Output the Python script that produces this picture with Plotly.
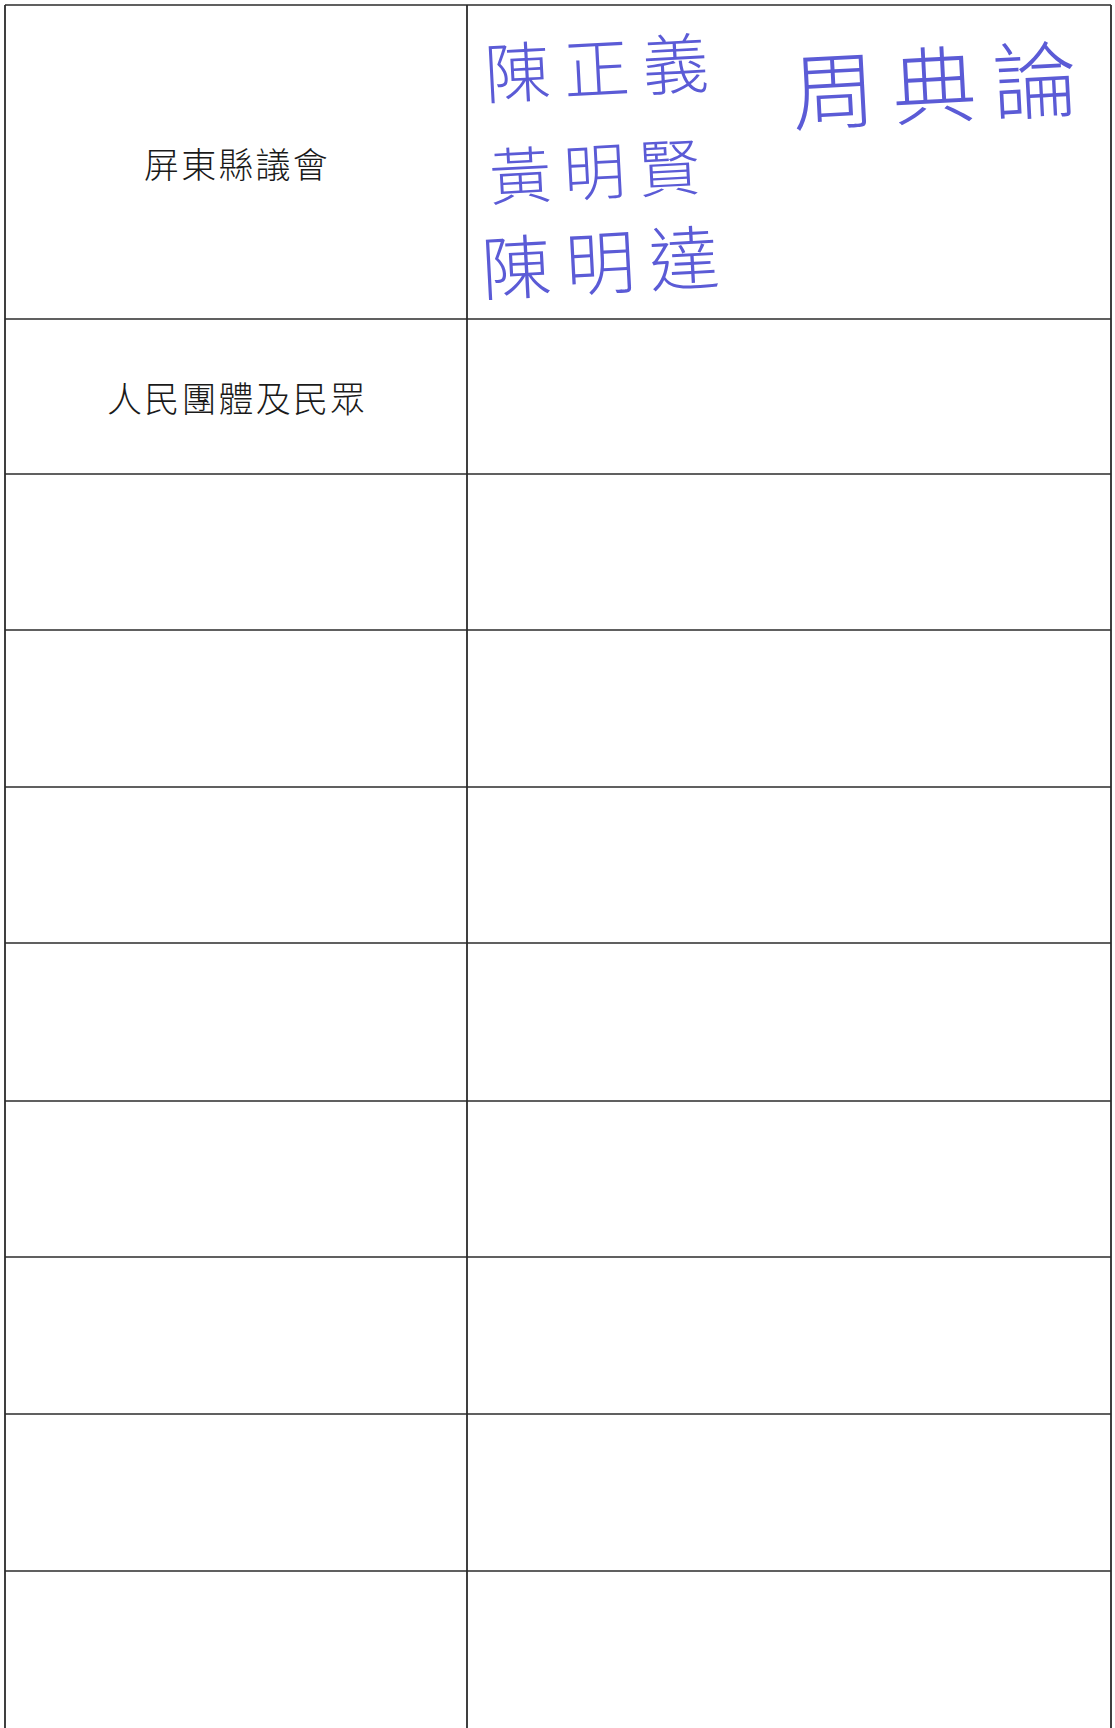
import plotly.graph_objects as go

# ---- table structure (page pixel coordinates of the scanned form) ----
page_width = 1115
page_height = 1728
col_edges = [5, 467, 1111]
row_edges = [5, 319, 474, 630, 787, 943, 1101, 1257, 1414, 1571, 1728]

# ---- text content ----
row_labels = ["屏東縣議會", "人民團體及民眾", "", "", "", "", "", "", "", ""]
signature_names = ["陳正義", "黃明賢", "陳明達", "周典論"]
signature_x = [596, 594, 600, 934]
signature_y = [64, 168, 258, 80]
signature_sizes = [66, 62, 70, 84]

LABEL_SEP = "\u200a"
SIG_SEP = "\u2009"
fig = go.Figure()

line_color = "#2b2b2b"
shapes = []
# horizontal rules (bottom edge of table lies beyond the page)
for y in row_edges[:-1]:
    shapes.append(dict(type="line", xref="x", yref="y", x0=col_edges[0], x1=col_edges[-1],
                       y0=y, y1=y, line=dict(color=line_color, width=1.7)))
# vertical rules
for x in col_edges:
    shapes.append(dict(type="line", xref="x", yref="y", x0=x, x1=x,
                       y0=row_edges[0], y1=row_edges[-1], line=dict(color=line_color, width=1.8)))

annotations = []
for i, lab in enumerate(row_labels):
    if not lab:
        continue
    cx = (col_edges[0] + col_edges[1]) / 2
    cy = (row_edges[i] + row_edges[i + 1]) / 2
    annotations.append(dict(x=cx, y=cy, xref="x", yref="y", text=LABEL_SEP.join(lab), showarrow=False,
                            font=dict(family="Noto Sans CJK TC", size=35, color="#1a1a1a", weight=300),
                            xanchor="center", yanchor="middle"))

for name, sx, sy, ss in zip(signature_names, signature_x, signature_y, signature_sizes):
    annotations.append(dict(x=sx, y=sy, xref="x", yref="y", text=SIG_SEP.join(name), showarrow=False,
                            font=dict(family="Noto Sans CJK TC", size=ss, color="#5b5bd6", weight=200),
                            xanchor="center", yanchor="middle", textangle=-3))

fig.update_layout(
    width=page_width, height=page_height,
    margin=dict(l=0, r=0, t=0, b=0),
    paper_bgcolor="white", plot_bgcolor="white",
    xaxis=dict(range=[0, page_width], visible=False, fixedrange=True),
    yaxis=dict(range=[page_height, 0], visible=False, fixedrange=True),
    shapes=shapes, annotations=annotations, showlegend=False,
)

fig.write_html("out.html", config={"displayModeBar": False},
               post_script="document.body.style.margin='0';document.body.style.overflow='hidden';")
